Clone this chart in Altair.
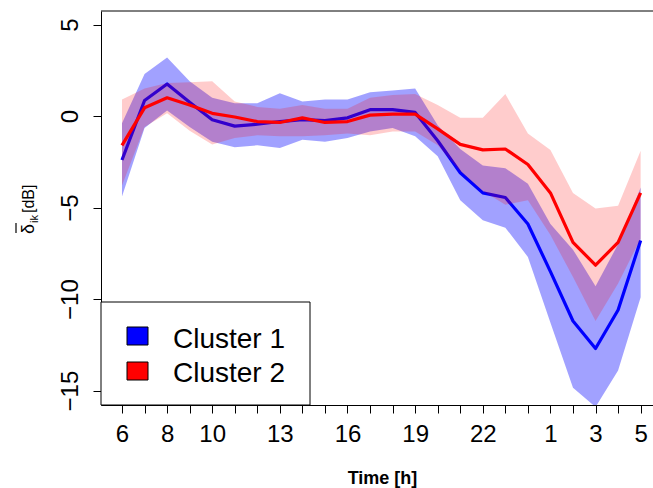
import altair as alt
import pandas as pd

# ---- data ----
hours = [6, 7, 8, 9, 10, 11, 12, 13, 14, 15, 16, 17, 18, 19, 20, 21, 22, 23, 0, 1, 2, 3, 4, 5]
labeled_hours = [6, 8, 10, 13, 16, 19, 22, 1, 3, 5]
y_ticks = [-15, -10, -5, 0, 5]
clusters = ["Cluster 1", "Cluster 2"]

c1_mean = [-2.4, 0.85, 1.75, 0.75, -0.2, -0.55, -0.45, -0.3, -0.2, -0.25, -0.1, 0.35,
           0.35, 0.2, -1.35, -3.1, -4.2, -4.45, -5.9, -8.5, -11.2, -12.7, -10.6, -6.8]
c1_upper = [-0.4, 2.3, 3.2, 1.9, 1.0, 0.7, 0.7, 1.25, 0.8, 0.9, 0.9, 1.3,
            1.4, 1.5, -0.5, -1.8, -2.7, -2.85, -3.7, -5.9, -7.3, -9.3, -7.0, -3.9]
c1_lower = [-4.4, -0.65, 0.3, -0.6, -1.4, -1.7, -1.6, -1.75, -1.3, -1.4, -1.2, -0.85,
            -0.65, -1.1, -2.2, -4.6, -5.7, -6.1, -7.7, -11.3, -14.85, -15.9, -13.9, -9.9]

c2_mean = [-1.6, 0.45, 1.0, 0.6, 0.15, -0.05, -0.3, -0.35, -0.1, -0.35, -0.3, 0.05,
           0.1, 0.1, -0.7, -1.55, -1.85, -1.8, -2.65, -4.2, -6.9, -8.15, -6.9, -4.2]
c2_upper = [0.9, 1.5, 1.8, 1.85, 1.9, 0.8, 0.5, 0.4, 0.6, 0.4, 0.4, 1.0,
            1.15, 1.2, 0.6, -0.1, -0.1, 1.2, -0.95, -1.85, -4.2, -5.05, -4.9, -1.9]
c2_lower = [-3.8, -0.6, 0.15, -0.8, -1.55, -1.2, -1.05, -1.1, -1.1, -1.05, -0.95, -1.05,
            -0.85, -0.85, -1.6, -3.0, -4.1, -4.85, -4.6, -6.5, -8.8, -11.2, -9.15, -6.7]

df = pd.DataFrame({
    "idx": list(range(len(hours))),
    "hour": hours,
    "c1_mean": c1_mean, "c1_upper": c1_upper, "c1_lower": c1_lower,
    "c2_mean": c2_mean, "c2_upper": c2_upper, "c2_lower": c2_lower,
})

FONT = "Liberation Sans"
W, H = 552, 394

# label expression: only some hours carry a label
expr = ""
for i, h in enumerate(hours):
    if h in labeled_hours:
        expr += f"datum.value == {i} ? '{h}' : "
expr += "''"

xscale = alt.Scale(domain=[-0.931, 23.548], nice=False, zero=False)
yscale = alt.Scale(domain=[-15.79, 5.74], nice=False, zero=False)

xaxis = alt.Axis(values=list(range(len(hours))), labelExpr=expr, tickSize=8,
                 tickColor="black", domainColor="black", labelColor="black",
                 labelFont=FONT, labelFontSize=24, labelPadding=9, labelBaseline="top",
                 labelFlush=False, labelOverlap=False, grid=False,
                 title="Time [h]", titleFont=FONT, titleFontSize=18, titleFontWeight="bold",
                 titleColor="black", titleX=281, titleY=78, titleBaseline="alphabetic",
                 titleAlign="center")
yaxis = alt.Axis(values=y_ticks, labelAngle=270, labelAlign="center",
                 labelBaseline="alphabetic", tickSize=8, tickColor="black",
                 domainColor="black", labelColor="black", labelFont=FONT,
                 labelFontSize=24, labelPadding=16, grid=False, title="")

base = alt.Chart(df)
X = alt.X("idx:Q", scale=xscale, axis=xaxis)

band1 = base.mark_area(color="#0000ff", opacity=0.37, clip=True).encode(
    x=X, y=alt.Y("c1_lower:Q", scale=yscale, axis=yaxis), y2="c1_upper:Q")
line1 = base.mark_line(color="#0000ff", strokeWidth=3.2, clip=True, strokeJoin="round").encode(
    x=X, y=alt.Y("c1_mean:Q", scale=yscale))
band2 = base.mark_area(color="#ff0000", opacity=0.2, clip=True).encode(
    x=X, y=alt.Y("c2_lower:Q", scale=yscale), y2="c2_upper:Q")
line2 = base.mark_line(color="#ff0000", strokeWidth=3.2, clip=True, strokeJoin="round").encode(
    x=X, y=alt.Y("c2_mean:Q", scale=yscale))

one = alt.Chart(pd.DataFrame({"a": [0]}))
top_rule = one.mark_rule(color="black", strokeWidth=1).encode(
    x=alt.value(0), x2=alt.value(W), y=alt.value(0))

# legend (drawn by hand, like R's legend box)
leg_box = one.mark_rect(fill="white", stroke="black", strokeWidth=1).encode(
    x=alt.value(0), x2=alt.value(209), y=alt.value(291), y2=alt.value(394))
leg_sq1 = one.mark_rect(fill="#0000ff", stroke="black", strokeWidth=1).encode(
    x=alt.value(26), x2=alt.value(47), y=alt.value(316), y2=alt.value(334))
leg_sq2 = one.mark_rect(fill="#ff0000", stroke="black", strokeWidth=1).encode(
    x=alt.value(26), x2=alt.value(47), y=alt.value(351), y2=alt.value(369))
leg_t1 = one.mark_text(text=clusters[0], font=FONT, fontSize=28, align="left",
                       baseline="alphabetic", color="black").encode(
    x=alt.value(72), y=alt.value(337))
leg_t2 = one.mark_text(text=clusters[1], font=FONT, fontSize=28, align="left",
                       baseline="alphabetic", color="black").encode(
    x=alt.value(72), y=alt.value(371))

# y-axis title: delta with overline, subscript ik, [dB]
yt_delta = one.mark_text(text="δ", font=FONT, fontSize=18, angle=270, align="left",
                         baseline="alphabetic", color="black").encode(
    x=alt.value(-67), y=alt.value(223))
yt_bar = one.mark_rule(color="black", strokeWidth=1.2).encode(
    x=alt.value(-85), y=alt.value(212), y2=alt.value(222))
yt_sub = one.mark_text(text="ik", font=FONT, fontSize=11, angle=270, align="left",
                       baseline="alphabetic", color="black").encode(
    x=alt.value(-63), y=alt.value(212))
yt_db = one.mark_text(text="[dB]", font=FONT, fontSize=16, angle=270, align="left",
                      baseline="alphabetic", color="black").encode(
    x=alt.value(-67), y=alt.value(202))

chart = alt.layer(
    band1, line1, band2, line2, top_rule,
    leg_box, leg_sq1, leg_sq2, leg_t1, leg_t2,
    yt_delta, yt_bar, yt_sub, yt_db,
).properties(
    width=W, height=H,
    autosize=alt.AutoSizeParams(type="none"),
    padding={"left": 101, "top": 11, "right": 0, "bottom": 83},
    background="white",
).configure_view(strokeWidth=0)

chart.save("out.html", embed_options={"renderer": "svg", "actions": False})
